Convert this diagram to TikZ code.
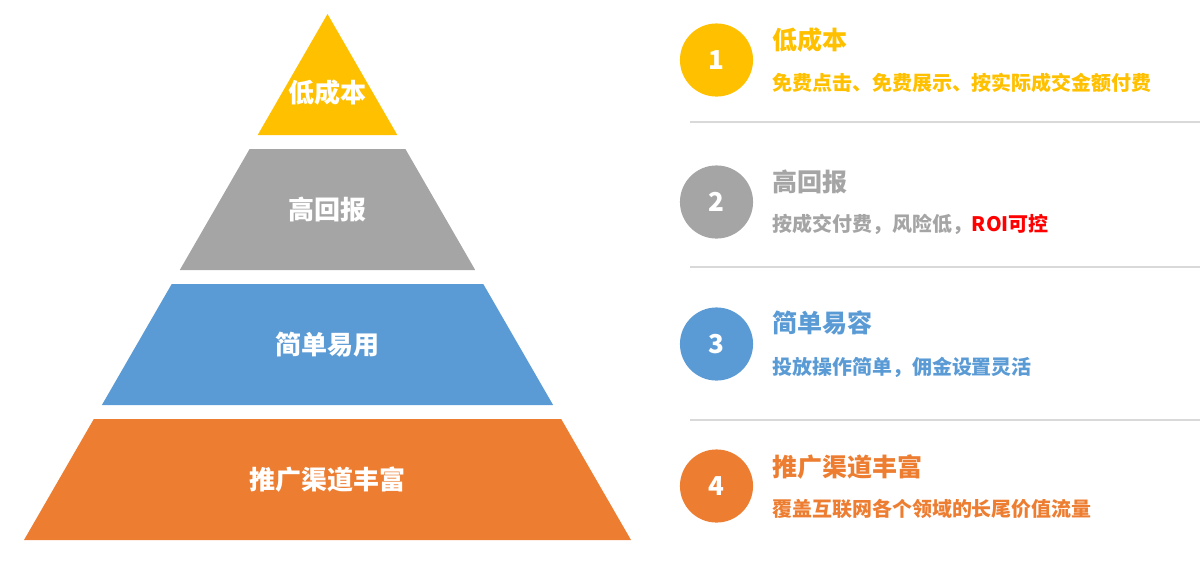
\documentclass[tikz,border=0pt]{standalone}
\usepackage{fontspec}
\setmainfont{Noto Sans CJK SC}
\usepackage{tikz}
\usetikzlibrary{positioning,calc}
\definecolor{lvlyel}{HTML}{FFC000}
\definecolor{lvlgry}{HTML}{A5A5A5}
\definecolor{lvlblu}{HTML}{5B9BD5}
\definecolor{lvlorg}{HTML}{ED7D31}
\definecolor{sepgry}{HTML}{D9D9D9}
\tikzset{
  tier/.style={draw=none},
  tierlbl/.style={font=\fontsize{18.5}{20}\selectfont\bfseries,text=white,inner sep=0pt},
  numdot/.style={circle,minimum size=52pt,inner sep=0pt,text=white,
    font=\fontsize{18.5}{20}\selectfont\bfseries},
  ttl/.style={anchor=west,inner sep=0pt,font=\fontsize{17.8}{20}\selectfont\bfseries},
  dsc/.style={anchor=west,inner sep=0pt,font=\fontsize{14.2}{16}\selectfont\bfseries},
  sepln/.style={line width=1pt,sepgry},
}

\begin{document}
\begin{tikzpicture}[x=0.025cm,y=-0.025cm]
  \useasboundingbox (0,0) rectangle (1200,560);
  % pyramid: apex (327.5,14), sides at 30 degrees
  \foreach \i/\t/\b/\c in {1/14/135/lvlyel, 2/149/270/lvlgry, 3/284/405/lvlblu, 4/419/540/lvlorg}{
    \fill[\c] ({327.5-(\t-14)*0.577},\t) -- ({327.5+(\t-14)*0.577},\t)
      -- ({327.5+(\b-14)*0.577},\b) -- ({327.5-(\b-14)*0.577},\b) -- cycle;
  }
  \node[tierlbl] (lvl1) at (327.5,93) {低成本};
  \node[tierlbl] (lvl2) at (327.5,210) {高回报};
  \node[tierlbl] (lvl3) at (327.5,345) {简单易用};
  \node[tierlbl] (lvl4) at (327.5,480) {推广渠道丰富};
  % numbered items on the right
  \foreach \i/\y/\c in {1/60/lvlyel, 2/202/lvlgry, 3/344/lvlblu, 4/486/lvlorg}{
    \node[numdot,fill=\c] (num\i) at (716.5,\y) {\i};
  }
  \node[ttl,text=lvlyel] (ttl1) at (772,40) {低成本};
  \node[dsc,text=lvlyel] (dsc1) at (772,83) {免费点击、免费展示、按实际成交金额付费};
  \node[ttl,text=lvlgry] (ttl2) at (772,182) {高回报};
  \node[dsc,text=lvlgry] (dsc2) at (772,224) {按成交付费，风险低，\textcolor{red}{ROI可控}};
  \node[ttl,text=lvlblu] (ttl3) at (772,323) {简单易容};
  \node[dsc,text=lvlblu] (dsc3) at (772,367) {投放操作简单，佣金设置灵活};
  \node[ttl,text=lvlorg] (ttl4) at (772,467) {推广渠道丰富};
  \node[dsc,text=lvlorg] (dsc4) at (772,509) {覆盖互联网各个领域的长尾价值流量};
  \foreach \y in {122,267,420}{
    \draw[sepln] (690,\y) -- (1200,\y);
  }
\end{tikzpicture}
\end{document}
